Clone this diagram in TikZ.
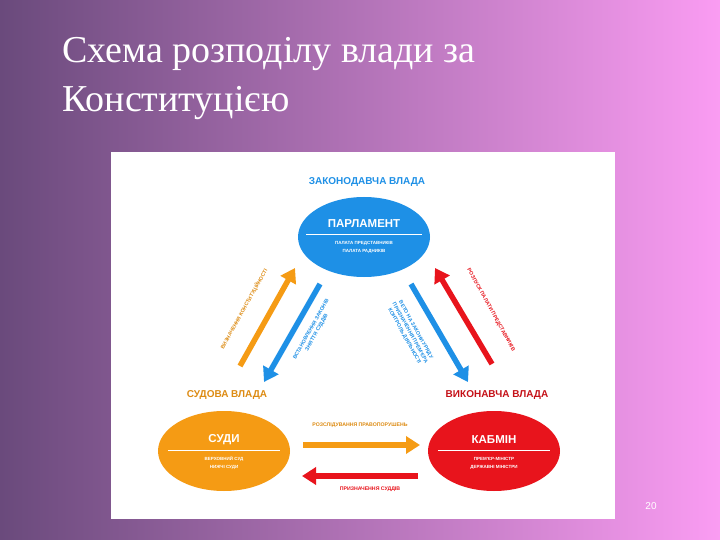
\documentclass[tikz,border=0pt]{standalone}
\usepackage{fontspec}
\setmainfont{Liberation Serif}
\newfontfamily\sans{Liberation Sans}
\usetikzlibrary{arrows.meta,shapes.geometric}
\definecolor{bgA}{HTML}{6A4A7C}
\definecolor{bgB}{HTML}{FA9CF2}
\definecolor{cblue}{HTML}{1E90E6}
\definecolor{corange}{HTML}{F59B14}
\definecolor{cred}{HTML}{E8141C}
\tikzset{
 ell/.style={ellipse,minimum width=132pt,minimum height=80pt},
 head/.style={font=\sans\bfseries\fontsize{10}{11}\selectfont},
 small/.style={font=\sans\bfseries\fontsize{4.5}{8}\selectfont,align=center},
 big/.style={line width=5.5pt,-{Triangle[length=14pt,width=17pt]}},
 lab/.style={font=\sans\bfseries\fontsize{5.2}{6.5}\selectfont,align=center}
}
\begin{document}
\begin{tikzpicture}[x=1pt,y=-1pt]
\useasboundingbox (0,0) rectangle (720,540);
\shade[shading angle=60,left color=bgA,right color=bgB] (0,0) rectangle (720,540);
\node[anchor=west,font=\fontsize{38}{49}\selectfont,align=left,text=white,inner sep=0pt] (title) at (62,79) {Схема розподілу влади за\\Конституцією};
\fill[white] (111,152) rectangle (615,519);
\node[font=\sans\fontsize{10}{12}\selectfont,text=white] (pg) at (651,506) {20};
\node[head,text=cblue] (h1) at (367,182) {ЗАКОНОДАВЧА ВЛАДА};
\node[head,text=corange!90!black] (h2) at (227,395) {СУДОВА ВЛАДА};
\node[head,text=cred!85!black] (h3) at (497,395) {ВИКОНАВЧА ВЛАДА};
\node[ell,fill=cblue] (par) at (364,237) {};
\node[ell,fill=corange] (sud) at (224,451) {};
\node[ell,fill=cred] (kab) at (494,451) {};
\node[font=\sans\bfseries\fontsize{11.5}{12}\selectfont,text=white] (t1) at (364,224) {ПАРЛАМЕНТ};
\draw[white,line width=0.5pt] (306,234) -- (422,234);
\node[small,text=white] (s1) at (364,247) {ПАЛАТА ПРЕДСТАВНИКІВ\\ПАЛАТА РАДНИКІВ};
\node[font=\sans\bfseries\fontsize{11.5}{12}\selectfont,text=white] (t2) at (224,440) {СУДИ};
\draw[white,line width=0.5pt] (168,450) -- (280,450);
\node[small,text=white] (s2) at (224,463) {ВЕРХОВНИЙ СУД\\НИЖЧІ СУДИ};
\node[font=\sans\bfseries\fontsize{11.5}{12}\selectfont,text=white] (t3) at (494,440) {КАБМІН};
\draw[white,line width=0.5pt] (438,450) -- (550,450);
\node[small,text=white] (s3) at (494,463) {ПРЕМ'ЄР-МІНІСТР\\ДЕРЖАВНІ МІНІСТРИ};
\coordinate (a1s) at (240,366); \coordinate (a1e) at (295,268);
\coordinate (a2s) at (320,284); \coordinate (a2e) at (264,382);
\coordinate (a3s) at (411,284); \coordinate (a3e) at (468,382);
\coordinate (a4s) at (492,364); \coordinate (a4e) at (435,268);
\coordinate (a5s) at (303,445); \coordinate (a5e) at (420,445);
\coordinate (a6s) at (418,476); \coordinate (a6e) at (302,476);
\draw[big,corange] (a1s) -- (a1e);
\draw[big,cblue] (a2s) -- (a2e);
\draw[big,cblue] (a3s) -- (a3e);
\draw[big,cred] (a4s) -- (a4e);
\draw[big,corange] (a5s) -- (a5e);
\draw[big,cred] (a6s) -- (a6e);
\node[lab,text=corange!90!black,rotate=61] (l1) at (244,309) {ВИЗНАЧЕННЯ КОНСТИТУЦІЙНОСТІ};
\node[lab,text=cblue,rotate=61] (l2) at (314,331) {ВСТАНОВЛЕННЯ ЗАКОНІВ\\ЗНЯТТЯ СУДДІВ};
\node[lab,text=cblue,rotate=-61] (l3) at (410,333) {ВЕТО НА ЗАКОНИ УРЯДУ\\ПРИЗНАЧЕННЯ ПРЕМ'ЄРА\\КОНТРОЛЬ ДІЯЛЬНОСТІ};
\node[lab,text=cred,rotate=-61] (l4) at (491,310) {РОЗПУСК ПАЛАТИ ПРЕДСТАВНИКІВ};
\node[lab,text=corange!90!black] (l5) at (360,425) {РОЗСЛІДУВАННЯ ПРАВОПОРУШЕНЬ};
\node[lab,text=cred] (l6) at (370,489) {ПРИЗНАЧЕННЯ СУДДІВ};
\end{tikzpicture}
\end{document}
